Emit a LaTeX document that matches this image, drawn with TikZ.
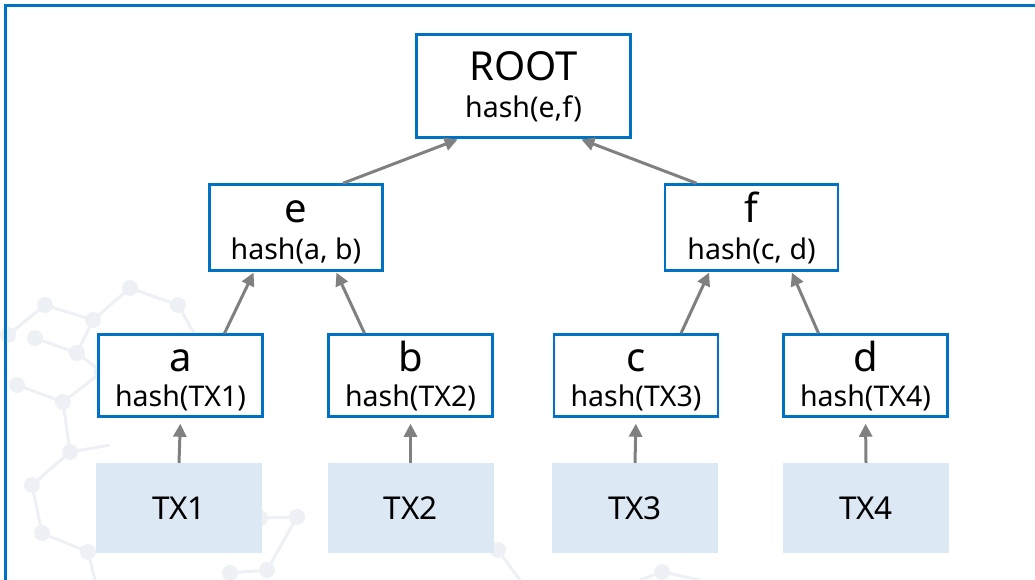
\documentclass[tikz,border=0pt]{standalone}
\usepackage{fontspec}
\setmainfont{Noto Sans}
\usetikzlibrary{calc,arrows.meta,positioning}
\definecolor{merkleblue}{RGB}{0,114,198}
\definecolor{txfill}{RGB}{221,232,245}
\definecolor{arrowgray}{RGB}{128,128,128}
\definecolor{hexgray}{RGB}{237,240,245}
\newcommand{\bigname}[1]{{\fontsize{40}{40}\selectfont\rule{0pt}{31pt}#1}}

\begin{document}
\begin{tikzpicture}[
    x=1pt, y=-1pt,
    hashbox/.style={rectangle, draw=merkleblue, line width=2.5pt, fill=white,
                    align=center, inner sep=0pt,
                    font=\fontsize{28.5}{37}\selectfont},
    leafbox/.style={hashbox, minimum width=164pt, minimum height=82pt,
                    font=\fontsize{28.5}{35}\selectfont},
    txbox/.style={rectangle, fill=txfill, minimum width=166pt,
                  minimum height=90pt, inner sep=0pt,
                  font=\fontsize{31.5}{36}\selectfont},
    arrow/.style={-{Triangle[length=13pt,width=13pt]}, line width=3pt,
                  draw=arrowgray},
    hexline/.style={draw=hexgray, line width=3pt}
  ]
    \useasboundingbox (0,0) rectangle (1035,580);

    % faint network in the background
    \draw[hexline] (8,335) -- (45,305) -- (93,320) -- (130,288) -- (178,305) -- (195,335);
    \draw[hexline] (93,320) -- (77,353) -- (102,372) -- (63,402) -- (17,385);
    \draw[hexline] (35,338) -- (77,353);
    \draw[hexline] (63,402) -- (70,452) -- (32,485) -- (42,533) -- (88,552) -- (95,580);
    \draw[hexline] (70,452) -- (110,445);
    \draw[hexline] (230,573) -- (267,570) -- (297,517) -- (260,518);
    \draw[hexline] (498,550) -- (520,580);
    \draw[hexline] (640,580) -- (662,572) -- (700,580);
    \foreach \p in {(8,335),(45,305),(93,320),(130,288),(178,305),(77,353),
                    (102,372),(63,402),(17,385),(35,338),(70,452),(32,485),
                    (42,533),(88,552),(230,573),(267,570),(297,517),(260,518),
                    (498,550),(662,572)}
      \fill[hexgray] \p circle (8);

    % frame
    \draw[merkleblue, line width=3pt] (5,580) -- (5,5.5) -- (1035,5.5);

    % tree
    \node[hashbox, minimum width=214pt, minimum height=103pt] (root) at (523.5,86)
      {\bigname{ROOT}\\hash(e,f)};
    \node[hashbox, minimum width=173pt, minimum height=86pt] (e) at (296,227.5)
      {\bigname{e}\\hash(a, b)};
    \node[hashbox, minimum width=173pt, minimum height=86pt] (f) at (751.5,227.5)
      {\bigname{f}\\hash(c, d)};
    \node[leafbox] (a) at (180.5,375.5) {\bigname{a}\\hash(TX1)};
    \node[leafbox] (b) at (410.5,375.5) {\bigname{b}\\hash(TX2)};
    \node[leafbox] (c) at (636,375.5)   {\bigname{c}\\hash(TX3)};
    \node[leafbox] (d) at (865.5,375.5) {\bigname{d}\\hash(TX4)};

    \node[txbox] (tx1) at (179,508)   {TX1};
    \node[txbox] (tx2) at (410.5,508) {TX2};
    \node[txbox] (tx3) at (635,508)   {TX3};
    \node[txbox] (tx4) at (866,508)   {TX4};

    \draw[arrow, shorten >=2pt] ($(e.north)+(47,0)$) -- ($(root.south)+(-64,0)$);
    \draw[arrow, shorten >=2pt] ($(f.north)+(-55,0)$) -- ($(root.south)+(56,0)$);
    \draw[arrow, shorten >=1pt] ($(a.north)+(44,0)$) -- ($(e.south)+(-42,0)$);
    \draw[arrow, shorten >=1pt] ($(b.north)+(-46,0)$) -- ($(e.south)+(40,0)$);
    \draw[arrow, shorten >=1pt] ($(c.north)+(45,0)$) -- ($(f.south)+(-42,0)$);
    \draw[arrow, shorten >=1pt] ($(d.north)+(-47,0)$) -- ($(f.south)+(40,0)$);
    \foreach \t/\h in {tx1/a, tx2/b, tx3/c, tx4/d}
      \draw[arrow, shorten >=6pt] (\t.north) -- (\h.south);
  \end{tikzpicture}
\end{document}
